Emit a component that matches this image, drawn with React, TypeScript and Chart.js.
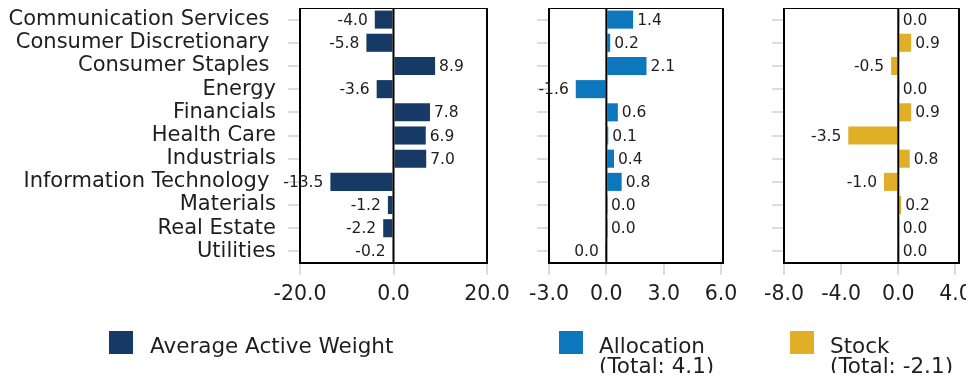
import React, { useEffect, useRef } from "react";
import { Chart, registerables } from "chart.js";
Chart.register(...registerables);

const categories = [
  "Communication Services ",
  "Consumer Discretionary ",
  "Consumer Staples ",
  "Energy",
  "Financials",
  "Health Care",
  "Industrials",
  "Information Technology ",
  "Materials",
  "Real Estate",
  "Utilities",
];
const avgActiveWeight = [-4.0, -5.8, 8.9, -3.6, 7.8, 6.9, 7.0, -13.5, -1.2, -2.2, -0.2];
const allocation = [1.4, 0.2, 2.1, -1.6, 0.6, 0.1, 0.4, 0.8, 0.03, 0.03, -0.03];
const stock = [0.03, 0.9, -0.5, 0.03, 0.9, -3.5, 0.8, -1.0, 0.2, 0.03, 0.03];

const weightTicks = [-20, 0, 20];
const allocationTicks = [-3, 0, 3, 6];
const stockTicks = [-8, -4, 0, 4];

const NAVY = "#173965";
const BLUE = "#0C77BD";
const GOLD = "#E0AE27";
const TEXT = "#1e1e1e";
const FONT = "DejaVu Sans";

const W = 974;
const H = 381;
const BOX_TOP = 8;
const BOX_BOTTOM = 263;
const X_AXIS_H = 50;

function fmt(v: number) {
  const s = v.toFixed(1);
  return s === "-0.0" ? "0.0" : s;
}

type PanelCfg = {
  values: number[];
  color: string;
  min: number;
  max: number;
  ticks: number[];
  left: number;
  right: number;
  showLabels: boolean;
};

function makeChart(canvas: HTMLCanvasElement, cfg: PanelCfg) {
  const framePlugin = {
    id: "frame",
    afterDatasetsDraw(chart: any) {
      const { ctx, chartArea: a, scales } = chart;
      const x0 = scales.x.getPixelForValue(0);
      ctx.save();
      ctx.strokeStyle = "#000";
      ctx.lineWidth = 2;
      ctx.beginPath();
      ctx.moveTo(x0, a.top);
      ctx.lineTo(x0, a.bottom);
      ctx.stroke();
      ctx.strokeRect(a.left, a.top, a.right - a.left, a.bottom - a.top);
      const meta = chart.getDatasetMeta(0);
      ctx.font = `15.5px "${FONT}"`;
      ctx.fillStyle = TEXT;
      ctx.textBaseline = "middle";
      meta.data.forEach((bar: any, i: number) => {
        const v = cfg.values[i];
        const neg = v < 0;
        ctx.textAlign = neg ? "right" : "left";
        ctx.fillText(fmt(v), bar.x + (neg ? -7 : 4), bar.y + 1);
      });
      ctx.restore();
    },
  };

  return new Chart(canvas, {
    type: "bar",
    data: {
      labels: categories,
      datasets: [
        {
          data: cfg.values,
          backgroundColor: cfg.color,
          borderWidth: 0,
          categoryPercentage: 1,
          barPercentage: 0.78,
        },
      ],
    },
    plugins: [framePlugin],
    options: {
      animation: false,
      responsive: false,
      maintainAspectRatio: false,
      indexAxis: "y",
      layout: {
        padding: {
          left: 0,
          right: W - cfg.right,
          top: BOX_TOP,
          bottom: H - BOX_BOTTOM - X_AXIS_H,
        },
      },
      plugins: { legend: { display: false }, tooltip: { enabled: false } },
      scales: {
        y: {
          type: "category",
          offset: true,
          grid: {
            display: true,
            offset: false,
            drawOnChartArea: false,
            drawTicks: true,
            tickLength: 12,
            tickColor: "#dcdcdc",
            tickWidth: 2,
            color: "#dcdcdc",
            lineWidth: 2,
          },
          border: { display: false },
          ticks: {
            autoSkip: false,
            padding: 12,
            color: TEXT,
            font: { family: FONT, size: 21 },
            callback: (_v: any, i: number) => (cfg.showLabels ? categories[i] : ""),
          },
          afterFit: (s: any) => {
            s.width = cfg.left;
            s.paddingTop = 0;
            s.paddingBottom = 0;
          },
        },
        x: {
          type: "linear",
          min: cfg.min,
          max: cfg.max,
          afterBuildTicks: (s: any) => {
            s.ticks = cfg.ticks.map((v) => ({ value: v }));
          },
          grid: {
            display: true,
            drawOnChartArea: false,
            drawTicks: true,
            tickLength: 12,
            tickColor: "#dcdcdc",
            tickWidth: 2,
            color: "#dcdcdc",
            lineWidth: 2,
          },
          border: { display: false },
          ticks: {
            autoSkip: false,
            maxRotation: 0,
            padding: 7,
            color: TEXT,
            font: { family: FONT, size: 20.5 },
            callback: (v: any) => Number(v).toFixed(1),
          },
          afterFit: (s: any) => {
            s.height = X_AXIS_H;
            s.paddingLeft = 0;
            s.paddingRight = 0;
          },
        },
      },
    } as any,
  });
}

const panels: PanelCfg[] = [
  { values: avgActiveWeight, color: NAVY, min: -20, max: 20, ticks: weightTicks, left: 300, right: 487, showLabels: true },
  { values: allocation, color: BLUE, min: -3, max: 6.1, ticks: allocationTicks, left: 549, right: 723, showLabels: false },
  { values: stock, color: GOLD, min: -8, max: 4.25, ticks: stockTicks, left: 784, right: 959, showLabels: false },
];

function Panel({ cfg }: { cfg: PanelCfg }) {
  const ref = useRef<HTMLCanvasElement | null>(null);
  useEffect(() => {
    if (!ref.current) return;
    const chart = makeChart(ref.current, cfg);
    return () => chart.destroy();
  }, [cfg]);
  return (
    <canvas
      ref={ref}
      width={W}
      height={H}
      style={{ position: "absolute", left: 0, top: 0, width: W, height: H, display: "block" }}
    />
  );
}

const legendText: React.CSSProperties = {
  position: "absolute",
  font: `21.5px "${FONT}"`,
  lineHeight: "20px",
  color: TEXT,
  whiteSpace: "nowrap",
};

export default function App() {
  return (
    <div style={{ position: "relative", width: W - 16, height: H - 16 }}>
      <div style={{ position: "absolute", left: -8, top: -8, width: W, height: H }}>
        {panels.map((p, i) => (
          <Panel key={i} cfg={p} />
        ))}
        <div style={{ position: "absolute", left: 109, top: 331, width: 24, height: 23, background: NAVY }} />
        <div style={{ ...legendText, left: 150, top: 336 }}>Average Active Weight</div>
        <div style={{ position: "absolute", left: 559, top: 331, width: 24, height: 23, background: BLUE }} />
        <div style={{ ...legendText, left: 599, top: 336 }}>
          Allocation
          <br />
          (Total: 4.1)
        </div>
        <div style={{ position: "absolute", left: 790, top: 331, width: 24, height: 23, background: GOLD }} />
        <div style={{ ...legendText, left: 830, top: 336 }}>
          Stock
          <br />
          (Total: -2.1)
        </div>
      </div>
    </div>
  );
}
